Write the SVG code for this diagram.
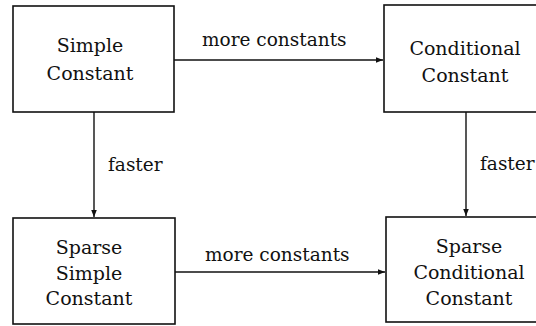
<svg xmlns="http://www.w3.org/2000/svg" width="536" height="326" viewBox="0 0 536 326">
<style>
.box{fill:#fff;stroke:#111;stroke-width:1.6}
.t{font-family:"DejaVu Serif","Liberation Serif",serif;font-size:19px;fill:#111;text-anchor:middle}
.lbl{font-family:"DejaVu Serif","Liberation Serif",serif;font-size:18.5px;fill:#111}
.edge{stroke:#111;stroke-width:1.4;fill:none}
</style>
<defs>
<marker id="ah" viewBox="0 0 10 10" refX="10" refY="5" markerWidth="7" markerHeight="7" markerUnits="userSpaceOnUse" orient="auto">
<path d="M0,1 L10,5 L0,9 Z" fill="#111"/>
</marker>
</defs>
<rect width="536" height="326" fill="#fff"/>
<g id="connectors">
<line class="edge" x1="174" y1="60" x2="383" y2="60" marker-end="url(#ah)"/>
<line class="edge" x1="175" y1="272" x2="385" y2="272" marker-end="url(#ah)"/>
<line class="edge" x1="94" y1="112" x2="94" y2="217" marker-end="url(#ah)"/>
<line class="edge" x1="466" y1="112" x2="466" y2="216" marker-end="url(#ah)"/>
<text class="lbl" x="202" y="46">more constants</text>
<text class="lbl" x="205" y="261">more constants</text>
<text class="lbl" x="108" y="171">faster</text>
<text class="lbl" x="480" y="170">faster</text>
</g>
<g id="simple-constant">
<rect class="box" x="13" y="6" width="161" height="106"/>
<text class="t" x="90" y="52">Simple</text>
<text class="t" x="90" y="80">Constant</text>
</g>
<g id="conditional-constant">
<rect class="box" x="384" y="5" width="160" height="107"/>
<text class="t" x="465" y="55">Conditional</text>
<text class="t" x="465" y="82">Constant</text>
</g>
<g id="sparse-simple-constant">
<rect class="box" x="13" y="218" width="162" height="106"/>
<text class="t" x="89" y="254">Sparse</text>
<text class="t" x="89" y="280">Simple</text>
<text class="t" x="89" y="305">Constant</text>
</g>
<g id="sparse-conditional-constant">
<rect class="box" x="386" y="217" width="160" height="105"/>
<text class="t" x="469" y="253">Sparse</text>
<text class="t" x="469" y="279">Conditional</text>
<text class="t" x="469" y="305">Constant</text>
</g>
</svg>
